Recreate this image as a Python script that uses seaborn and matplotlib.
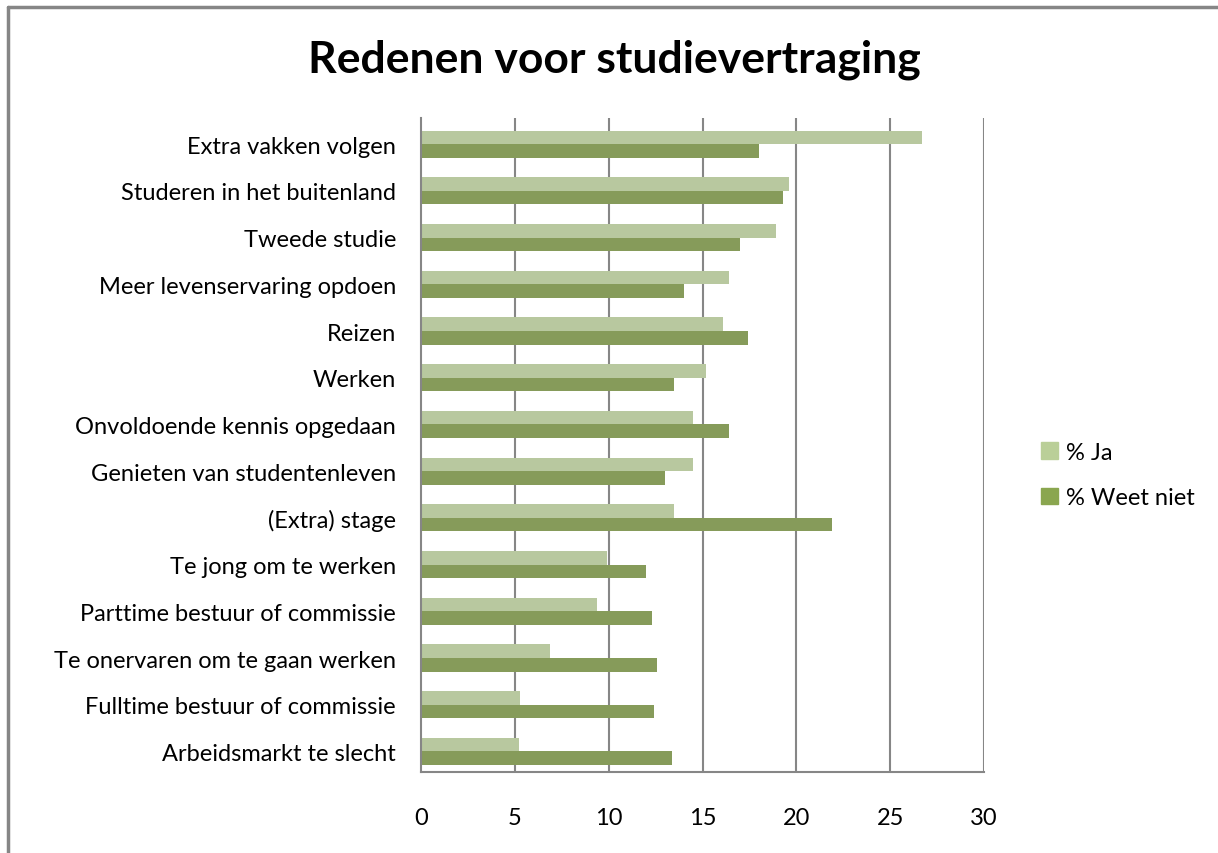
import pandas as pd
import matplotlib
matplotlib.use("Agg")
import matplotlib.pyplot as plt
import seaborn as sns
from matplotlib.lines import Line2D

# Redenen voor studievertraging (% per reden)
redenen = [
    "Extra vakken volgen",
    "Studeren in het buitenland",
    "Tweede studie",
    "Meer levenservaring opdoen",
    "Reizen",
    "Werken",
    "Onvoldoende kennis opgedaan",
    "Genieten van studentenleven",
    "(Extra) stage",
    "Te jong om te werken",
    "Parttime bestuur of commissie",
    "Te onervaren om te gaan werken",
    "Fulltime bestuur of commissie",
    "Arbeidsmarkt te slecht",
]
pct_ja = [26.7, 19.6, 18.9, 16.4, 16.1, 15.2, 14.5, 14.5, 13.5, 9.9, 9.4, 6.9, 5.3, 5.2]
pct_weet_niet = [18.0, 19.3, 17.0, 14.0, 17.4, 13.5, 16.4, 13.0, 21.9, 12.0, 12.3, 12.6, 12.4, 13.4]
reeksen = ["% Ja", "% Weet niet"]
xticks = [0, 5, 10, 15, 20, 25, 30]

df = pd.DataFrame({
    "reden": redenen * 2,
    "reeks": [reeksen[0]] * len(redenen) + [reeksen[1]] * len(redenen),
    "waarde": pct_ja + pct_weet_niet,
})

sns.set_style("white")
plt.rcParams["font.family"] = ["Lato", "DejaVu Sans"]
plt.rcParams["text.color"] = "black"
plt.rcParams["xtick.color"] = "black"
plt.rcParams["ytick.color"] = "black"

fig = plt.figure(figsize=(12.18, 8.54), dpi=100)
ax = fig.add_axes([421 / 1218, 1 - 773 / 854, (984 - 421) / 1218, (773 - 119) / 854])

palette = {"% Ja": "#BACF98", "% Weet niet": "#8AA64F"}
sns.barplot(data=df, y="reden", x="waarde", hue="reeks", order=redenen,
            hue_order=reeksen, palette=palette, width=0.58, orient="h",
            edgecolor="none", ax=ax)

ax.set_xlim(0, 30)
ax.set_ylim(len(redenen) - 0.56, -0.56)
ax.set_xticks(xticks)
ax.set_xticklabels([str(t) for t in xticks], fontsize=17)
ax.tick_params(axis="x", length=0, pad=25)
ax.tick_params(axis="y", length=0, pad=18, labelsize=17)
ax.set_xlabel("")
ax.set_ylabel("")

for t in xticks[1:]:
    ax.axvline(t, color="#868686", linewidth=1.5, zorder=0)
for side in ["top", "right"]:
    ax.spines[side].set_visible(False)
for side in ["left", "bottom"]:
    ax.spines[side].set_color("#868686")
    ax.spines[side].set_linewidth(1.5)

ax.legend_.remove()
handles = [plt.Rectangle((0, 0), 1, 1, color=palette[r]) for r in reeksen]
fig.legend(handles, reeksen, loc="center left", bbox_to_anchor=(1020 / 1218, 1 - 476 / 854),
           frameon=False, fontsize=17, handlelength=0.7, handleheight=0.7,
           handletextpad=0.35, labelspacing=1.05)

fig.text(614 / 1218, 1 - 60 / 854, "Redenen voor studievertraging",
         ha="center", va="center", fontsize=32, fontweight="bold", color="black")

# rand van de grafiek
fig.add_artist(Line2D([8 / 1218, 8 / 1218], [0, 1 - 8 / 854], color="#868686", linewidth=2.5,
                      transform=fig.transFigure))
fig.add_artist(Line2D([8 / 1218, 1], [1 - 8 / 854, 1 - 8 / 854], color="#868686", linewidth=2.5,
                      transform=fig.transFigure))

fig.savefig("out.png", dpi=100)
